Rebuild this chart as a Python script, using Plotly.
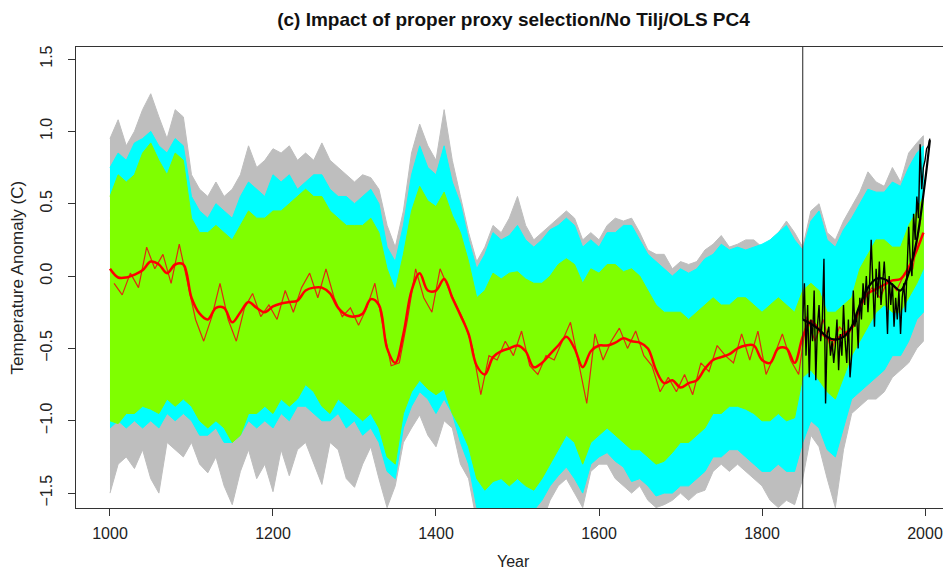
import plotly.graph_objects as go

# ---------------- data ----------------
band_years = [1000, 1010, 1020, 1030, 1040, 1050, 1060, 1070, 1080, 1090,
              1100, 1110, 1120, 1130, 1140, 1150, 1160, 1170, 1180, 1190,
              1200, 1210, 1220, 1230, 1240, 1250, 1260, 1270, 1280, 1290,
              1300, 1310, 1320, 1330, 1340, 1350, 1360, 1370, 1380, 1390,
              1400, 1410, 1420, 1430, 1440, 1450, 1460, 1470, 1480, 1490,
              1500, 1510, 1520, 1530, 1540, 1550, 1560, 1570, 1580, 1590,
              1600, 1610, 1620, 1630, 1640, 1650, 1660, 1670, 1680, 1690,
              1700, 1710, 1720, 1730, 1740, 1750, 1760, 1770, 1780, 1790,
              1800, 1810, 1820, 1830, 1840, 1850, 1860, 1870, 1880, 1890,
              1900, 1910, 1920, 1930, 1940, 1950, 1960, 1970, 1980, 1990, 1998]

grey_upper = [0.95, 1.08, 0.90, 1.00, 1.15, 1.26, 1.10, 0.95, 1.15, 1.10,
              0.70, 0.60, 0.55, 0.65, 0.55, 0.60, 0.70, 0.90, 0.75, 0.80,
              0.88, 0.85, 0.90, 0.80, 0.85, 0.80, 0.92, 0.80, 0.75, 0.70,
              0.65, 0.70, 0.68, 0.60, 0.35, 0.20, 0.45, 0.85, 1.05, 0.90,
              0.80, 1.15, 0.80, 0.55, 0.30, 0.10, 0.20, 0.35, 0.30, 0.40,
              0.55, 0.35, 0.25, 0.30, 0.35, 0.40, 0.45, 0.40, 0.25, 0.30,
              0.25, 0.35, 0.40, 0.38, 0.40, 0.30, 0.18, 0.15, 0.15, 0.05,
              0.10, 0.08, 0.10, 0.18, 0.22, 0.28, 0.20, 0.22, 0.25, 0.25,
              0.20, 0.25, 0.30, 0.38, 0.30, 0.20, 0.45, 0.50, 0.30, 0.25,
              0.38, 0.48, 0.58, 0.72, 0.65, 0.62, 0.75, 0.65, 0.85, 0.92, 0.97]
grey_lower = [-1.50, -1.30, -1.25, -1.33, -1.20, -1.40, -1.50, -1.15, -1.20, -1.25,
              -1.15, -1.30, -1.36, -1.25, -1.45, -1.58, -1.35, -1.20, -1.40, -1.30,
              -1.49, -1.20, -1.38, -1.20, -1.15, -1.30, -1.44, -1.15, -1.20, -1.40,
              -1.46, -1.30, -1.18, -1.40, -1.60, -1.45, -1.15, -1.05, -0.96, -1.10,
              -1.18, -1.00, -1.05, -1.30, -1.40, -1.70, -1.70, -1.70, -1.70, -1.70,
              -1.70, -1.70, -1.70, -1.70, -1.55, -1.45, -1.40, -1.50, -1.60, -1.35,
              -1.30, -1.30, -1.40, -1.45, -1.50, -1.45, -1.55, -1.60, -1.58, -1.55,
              -1.50, -1.55, -1.50, -1.48, -1.35, -1.30, -1.35, -1.30, -1.35, -1.40,
              -1.45, -1.55, -1.60, -1.55, -1.58, -1.40, -1.10, -1.18, -1.40, -1.60,
              -1.20, -0.95, -0.90, -0.85, -0.85, -0.80, -0.70, -0.65, -0.60, -0.50, -0.45]

cyan_upper = [0.75, 0.85, 0.80, 0.92, 0.95, 1.00, 0.90, 0.85, 0.95, 0.90,
              0.55, 0.45, 0.40, 0.50, 0.45, 0.40, 0.55, 0.65, 0.60, 0.55,
              0.70, 0.65, 0.70, 0.60, 0.65, 0.70, 0.70, 0.60, 0.55, 0.55,
              0.50, 0.55, 0.60, 0.50, 0.20, 0.10, 0.35, 0.70, 0.90, 0.75,
              0.70, 0.90, 0.65, 0.50, 0.25, 0.05, 0.15, 0.30, 0.25, 0.28,
              0.35, 0.25, 0.20, 0.25, 0.32, 0.35, 0.40, 0.35, 0.20, 0.25,
              0.20, 0.30, 0.30, 0.35, 0.35, 0.25, 0.15, 0.10, 0.05, 0.00,
              0.05, 0.02, 0.05, 0.12, 0.15, 0.22, 0.18, 0.20, 0.18, 0.20,
              0.22, 0.25, 0.30, 0.35, 0.25, 0.18, 0.38, 0.45, 0.25, 0.20,
              0.32, 0.40, 0.50, 0.60, 0.58, 0.58, 0.65, 0.62, 0.75, 0.85, 0.90]
cyan_lower = [-1.05, -1.00, -1.05, -1.00, -1.05, -1.00, -1.05, -0.95, -1.00, -0.95,
              -1.00, -1.10, -1.10, -1.05, -1.15, -1.15, -1.10, -1.00, -1.05, -1.00,
              -1.05, -0.95, -1.00, -0.90, -0.90, -0.95, -1.00, -1.00, -0.95, -1.05,
              -1.00, -1.10, -1.05, -1.15, -1.35, -1.40, -1.05, -0.90, -0.80, -0.85,
              -0.95, -0.85, -0.95, -1.15, -1.30, -1.60, -1.62, -1.62, -1.60, -1.62,
              -1.60, -1.62, -1.62, -1.55, -1.45, -1.38, -1.32, -1.40, -1.50, -1.30,
              -1.25, -1.22, -1.28, -1.32, -1.42, -1.40, -1.45, -1.52, -1.50, -1.50,
              -1.45, -1.45, -1.40, -1.35, -1.25, -1.25, -1.20, -1.20, -1.25, -1.30,
              -1.35, -1.35, -1.30, -1.35, -1.35, -1.15, -1.00, -1.05, -1.20, -1.25,
              -1.05, -0.85, -0.80, -0.75, -0.70, -0.65, -0.55, -0.55, -0.45, -0.30, -0.25]

green_upper = [0.55, 0.70, 0.65, 0.70, 0.85, 0.92, 0.80, 0.70, 0.85, 0.80,
               0.40, 0.30, 0.30, 0.35, 0.30, 0.25, 0.35, 0.45, 0.40, 0.40,
               0.45, 0.45, 0.50, 0.55, 0.60, 0.55, 0.55, 0.45, 0.40, 0.35,
               0.35, 0.35, 0.40, 0.30, 0.05, -0.10, 0.15, 0.45, 0.62, 0.52,
               0.48, 0.58, 0.42, 0.30, 0.10, -0.15, -0.10, 0.02, -0.02, 0.02,
               0.03, -0.02, -0.05, -0.05, 0.00, 0.08, 0.12, 0.08, -0.05, 0.05,
               0.02, 0.08, 0.08, 0.03, 0.05, 0.00, -0.10, -0.20, -0.25, -0.25,
               -0.25, -0.30, -0.25, -0.20, -0.15, -0.20, -0.20, -0.15, -0.15, -0.20,
               -0.25, -0.20, -0.15, -0.20, -0.25, -0.10, -0.05, -0.10, -0.25, -0.25,
               -0.20, -0.15, 0.05, 0.15, 0.25, 0.25, 0.20, 0.20, 0.35, 0.45, 0.55]
green_lower = [-1.00, -1.02, -0.95, -0.95, -0.90, -0.92, -0.95, -0.85, -0.90, -0.85,
               -0.90, -1.00, -1.05, -1.00, -1.05, -1.15, -1.10, -0.95, -0.95, -0.90,
               -0.95, -0.85, -0.90, -0.85, -0.75, -0.80, -0.90, -0.95, -0.85, -0.90,
               -0.95, -1.00, -0.95, -1.05, -1.25, -1.30, -0.95, -0.80, -0.72, -0.78,
               -0.82, -0.78, -0.95, -1.05, -1.18, -1.40, -1.48, -1.42, -1.40, -1.45,
               -1.40, -1.45, -1.48, -1.40, -1.30, -1.20, -1.10, -1.15, -1.30, -1.15,
               -1.10, -1.05, -1.10, -1.15, -1.20, -1.20, -1.25, -1.30, -1.28, -1.22,
               -1.15, -1.15, -1.10, -1.05, -0.95, -0.95, -0.90, -0.90, -0.92, -0.95,
               -1.00, -1.00, -0.95, -1.00, -0.98, -0.70, -0.65, -0.72, -0.80, -0.85,
               -0.70, -0.55, -0.45, -0.35, -0.25, -0.20, -0.25, -0.25, -0.15, -0.05, 0.05]

smooth_years = band_years
red_smooth = [0.05, -0.01, -0.01, 0.01, 0.04, 0.10, 0.08, 0.02, 0.08, 0.08,
              -0.15, -0.26, -0.30, -0.22, -0.22, -0.32, -0.25, -0.18, -0.22, -0.25,
              -0.21, -0.19, -0.18, -0.17, -0.10, -0.08, -0.08, -0.12, -0.22, -0.27,
              -0.28, -0.26, -0.16, -0.20, -0.50, -0.60, -0.40, -0.10, 0.02, -0.10,
              -0.10, -0.02, -0.15, -0.27, -0.40, -0.62, -0.68, -0.56, -0.52, -0.50,
              -0.48, -0.52, -0.63, -0.60, -0.54, -0.48, -0.42, -0.50, -0.63, -0.52,
              -0.48, -0.48, -0.46, -0.43, -0.45, -0.46, -0.50, -0.65, -0.74, -0.72,
              -0.77, -0.74, -0.72, -0.64, -0.58, -0.56, -0.54, -0.50, -0.48, -0.48,
              -0.58, -0.60, -0.50, -0.50, -0.60, -0.42, -0.31, -0.37, -0.43, -0.44,
              -0.40, -0.36, -0.22, -0.12, -0.09, -0.06, -0.03, -0.02, 0.06, 0.18, 0.30]

red_thin_years = [1005 + 10 * i for i in range(100)]
red_thin = [-0.05, -0.13, 0.02, -0.08, 0.20, 0.05, 0.15, -0.05, 0.22, -0.05,
            -0.30, -0.45, -0.28, -0.05, -0.30, -0.45, -0.22, -0.12, -0.28, -0.20,
            -0.30, -0.10, -0.25, -0.08, 0.02, -0.15, 0.05, -0.15, -0.28, -0.22,
            -0.34, -0.22, -0.05, -0.35, -0.62, -0.60, -0.30, 0.05, -0.15, -0.25,
            0.05, -0.08, -0.20, -0.32, -0.50, -0.82, -0.55, -0.58, -0.45, -0.55,
            -0.38, -0.62, -0.68, -0.55, -0.58, -0.45, -0.32, -0.60, -0.88, -0.40,
            -0.58, -0.45, -0.36, -0.50, -0.38, -0.55, -0.62, -0.80, -0.70, -0.80,
            -0.68, -0.82, -0.60, -0.66, -0.48, -0.55, -0.60, -0.40, -0.58, -0.38,
            -0.68, -0.55, -0.40, -0.58, -0.68, -0.28, -0.45, -0.30, -0.52, -0.35,
            -0.42, -0.30, -0.15, -0.08, -0.15, -0.02, -0.10, 0.02, 0.05, 0.40]

inst_years = list(range(1850, 2007, 2))
inst_values = [-0.30, -0.05, -0.55, -0.20, -0.70, -0.30, -0.45, -0.10, -0.72, -0.35,
               -0.20, -0.45, -0.30, 0.12, -0.88, -0.40, -0.35, -0.55, -0.45, -0.60,
               -0.48, -0.30, -0.65, -0.40, -0.55, -0.20, -0.45, -0.60, -0.30, -0.70,
               -0.55, -0.10, -0.35, -0.25, -0.50, -0.15, -0.30, -0.05, -0.20, 0.00,
               -0.25, -0.05, 0.25, -0.10, -0.35, 0.05, -0.15, 0.10, -0.20, -0.05,
               0.10, -0.10, -0.40, 0.00, -0.20, -0.05, -0.35, -0.15, -0.30, -0.10,
               -0.40, -0.15, -0.05, -0.25, 0.05, 0.34, 0.10, 0.00, 0.43, 0.25,
               0.55, 0.40, 0.91, 0.60, 0.75, 0.80, 0.88, 0.90, 0.95]

inst_smooth_years = [1850, 1860, 1870, 1880, 1890, 1900, 1910, 1920, 1930, 1940,
                     1950, 1960, 1970, 1980, 1990, 2000, 2006]
inst_smooth = [-0.30, -0.33, -0.37, -0.42, -0.44, -0.42, -0.35, -0.20, -0.08, -0.02,
               -0.02, -0.06, -0.10, 0.02, 0.25, 0.65, 0.94]

x_ticks = [1000, 1200, 1400, 1600, 1800, 2000]
y_ticks = [-1.5, -1.0, -0.5, 0.0, 0.5, 1.0, 1.5]
y_tick_labels = ["\u22121.5", "\u22121.0", "\u22120.5", "0.0", "0.5", "1.0", "1.5"]
calibration_start = 1850

# ---------------- figure ----------------
fig = go.Figure()


def band(upper, lower, color):
    xs = band_years + band_years[::-1]
    ys = upper + lower[::-1]
    fig.add_trace(go.Scatter(x=xs, y=ys, fill="toself", fillcolor=color,
                             mode="lines", line=dict(color=color, width=1),
                             hoverinfo="skip", showlegend=False))


band(grey_upper, grey_lower, "#BEBEBE")
band(cyan_upper, cyan_lower, "#00FFFF")
band(green_upper, green_lower, "#7FFF00")

fig.add_trace(go.Scatter(x=red_thin_years, y=red_thin, mode="lines",
                         line=dict(color="#E02A10", width=1.2), showlegend=False))
fig.add_trace(go.Scatter(x=smooth_years, y=red_smooth, mode="lines",
                         line=dict(color="#FF0000", width=2.5, shape="spline"),
                         showlegend=False))
fig.add_trace(go.Scatter(x=inst_years, y=inst_values, mode="lines",
                         line=dict(color="#000000", width=1.4), showlegend=False))
fig.add_trace(go.Scatter(x=inst_smooth_years, y=inst_smooth, mode="lines",
                         line=dict(color="#000000", width=2.2, shape="spline"),
                         showlegend=False))

fig.add_vline(x=calibration_start, line=dict(color="#222222", width=1))

font_family = "Liberation Sans, Arial, sans-serif"
W, H = 943, 565
fig.update_layout(
    width=W, height=H,
    margin=dict(l=68, r=0, t=39, b=65),
    paper_bgcolor="white", plot_bgcolor="white",
    font=dict(family=font_family, size=16, color="#222222"),
    title=dict(text="<b>(c) Impact of proper proxy selection/No Tilj/OLS PC4</b>",
               x=0.5, xanchor="center", xref="paper",
               y=1 - 11 / H, yref="container", yanchor="middle",
               font=dict(size=19, family=font_family, color="#111111")),
    annotations=[
        dict(text="Year", xref="paper", yref="paper", x=0.5, y=-0.117,
             xanchor="center", yanchor="middle", showarrow=False,
             font=dict(size=16)),
        dict(text="Temperature Anomaly (C)", xref="paper", yref="paper",
             x=-0.0663, y=0.5, textangle=-90, xanchor="center", yanchor="middle",
             showarrow=False, font=dict(size=17)),
    ],
)
fig.update_xaxes(range=[958.3, 2031.9], tickvals=x_ticks,
                 ticks="outside", ticklen=7, tickcolor="#333333",
                 showline=True, linecolor="#333333", linewidth=1, mirror=True,
                 showgrid=False, zeroline=False, ticklabelstandoff=4)
fig.update_yaxes(range=[-1.603, 1.583], tickvals=y_ticks, ticktext=y_tick_labels,
                 tickangle=-90, ticks="outside", ticklen=7, tickcolor="#333333",
                 showline=True, linecolor="#333333", linewidth=1,
                 showgrid=False, zeroline=False, ticklabelstandoff=10)

fig.write_html("out.html")
